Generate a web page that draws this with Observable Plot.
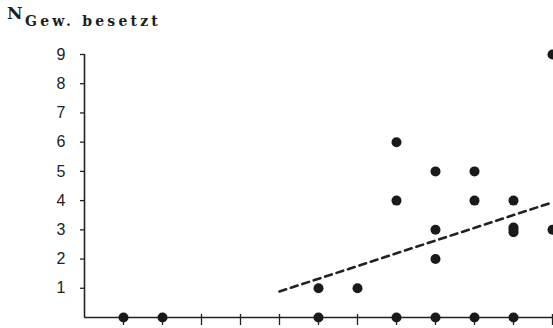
<!DOCTYPE html>
<html>
<head>
<meta charset="utf-8">
<script src="https://cdn.jsdelivr.net/npm/d3@7"></script>
<script src="https://cdn.jsdelivr.net/npm/@observablehq/plot@0.6"></script>
<style>
  html, body { margin: 0; padding: 0; background: #fff; }
  #wrap { position: relative; width: 553px; height: 328px; overflow: hidden; }
  #title { position: absolute; left: 0; top: 0; width: 300px; height: 36px; font-family: "DejaVu Serif", serif; color: #1e1e1e; white-space: nowrap; }
  #title .n { position: absolute; left: 7px; top: 3px; font-size: 17px; font-weight: bold; line-height: 20px; }
  #title .sub { position: absolute; left: 25px; top: 13px; font-size: 14px; font-weight: bold; letter-spacing: 3.2px; line-height: 17px; }
  #chart { position: absolute; left: 0; top: 36px; }
</style>
</head>
<body>
<div id="wrap">
  <div id="title"><span class="n">N</span><span class="sub">Gew. besetzt</span></div>
  <div id="chart"></div>
</div>
<script>
// Observed points (x position index, N Gew. besetzt)
const pointX = [1, 2, 6, 6, 7, 8, 8, 8, 9, 9, 9, 9, 10, 10, 10, 11, 11, 11, 11, 11, 12, 12];
const pointY = [0, 0, 0, 1, 1, 0, 4, 6, 0, 2, 3, 5, 0, 4, 5, 0, 2.92, 3.0, 3.08, 4, 3, 9];
// Dashed trend line endpoints
const trendX = [5, 12];
const trendY = [0.89, 3.94];
// Axis ticks
const xTicks = [1, 2, 3, 4, 5, 6, 7, 8, 9, 10, 11, 12];
const yTicks = [1, 2, 3, 4, 5, 6, 7, 8, 9];

const points = pointX.map((x, i) => ({x, y: pointY[i]}));
const trend = trendX.map((x, i) => ({x, y: trendY[i]}));

const ink = "#222";
const chart = Plot.plot({
  width: 553,
  height: 292,
  marginLeft: 84,
  marginRight: 1,
  marginTop: 18,
  marginBottom: 11,
  style: {background: "#fff", overflow: "visible"},
  x: {domain: [0, 12], label: null},
  y: {domain: [0, 9], label: null},
  marks: [
    Plot.ruleY([0], {stroke: ink, strokeWidth: 1.6}),
    Plot.ruleX([0], {y1: 0, y2: 9, stroke: ink, strokeWidth: 1.6}),
    Plot.axisY({ticks: yTicks, label: null, tickSize: 4, tickPadding: 15, fontSize: 16, fontFamily: "Liberation Sans, Arial, sans-serif", fill: ink, stroke: ink, strokeWidth: 1.3}),
    Plot.axisX({ticks: xTicks, label: null, tickSize: 11, dy: -3, tickFormat: () => "", stroke: ink, strokeWidth: 1.3}),
    Plot.line(trend, {x: "x", y: "y", stroke: ink, strokeWidth: 2.6, strokeDasharray: "7,5"}),
    Plot.dot(points, {x: "x", y: "y", r: 5, fill: "#1a1a1a", stroke: "none"})
  ]
});
document.getElementById("chart").appendChild(chart);
</script>
</body>
</html>
